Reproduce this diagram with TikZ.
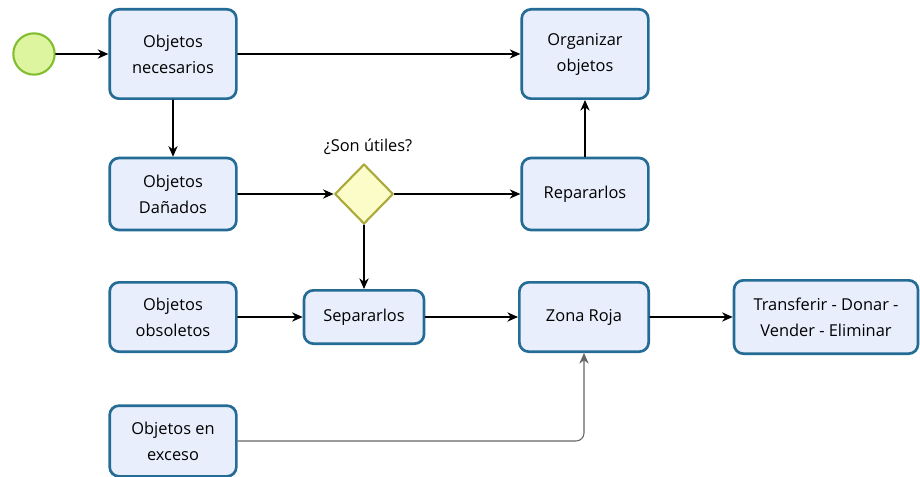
\documentclass[tikz,border=0pt]{standalone}
\usepackage{fontspec}
\setmainfont{Open Sans}
\usetikzlibrary{arrows.meta,shapes.geometric}

\definecolor{taskline}{RGB}{36,108,150}
\definecolor{taskfill}{RGB}{232,238,252}
\definecolor{startline}{RGB}{130,190,50}
\definecolor{startfill}{RGB}{222,245,160}
\definecolor{gateline}{RGB}{170,170,60}
\definecolor{gatefill}{RGB}{252,252,200}

\tikzset{
  task/.style={draw=taskline,fill=taskfill,line width=2pt,rounded corners=7pt,
    align=center,minimum width=95pt,minimum height=54pt,inner sep=2pt},
  gate/.style={diamond,draw=gateline,fill=gatefill,line width=1.6pt,
    minimum width=44pt,minimum height=45pt,inner sep=0pt},
  flow/.style={-{Stealth[length=8pt,width=7pt]},line width=0.8pt}
}

\begin{document}
\begin{tikzpicture}[x=0.75pt,y=-0.75pt,font=\fontsize{12.3}{19.5}\selectfont,line cap=round,line join=round]

\useasboundingbox (0,0) rectangle (920,477);

% inicio
\node[circle,draw=startline,fill=startfill,line width=1.6pt,minimum size=31pt,inner sep=0pt] (inicio) at (34,54) {};

% tareas
\node[task,minimum height=67pt] (necesarios) at (173,54) {Objetos\\necesarios};
\node[task,minimum height=67pt] (organizar) at (585,54) {Organizar\\objetos};
\node[task] (danados) at (173,194) {Objetos\\Dañados};
\node[task] (reparar) at (585,194) {Repararlos};
\node[task,minimum height=52pt] (obsoletos) at (173,317) {Objetos\\obsoletos};
\node[task,minimum width=90pt,minimum height=40pt] (separar) at (364,317) {Separarlos};
\node[task,minimum width=97pt,minimum height=52pt] (zona) at (584,317) {Zona Roja};
\node[task,minimum width=138pt,minimum height=55pt] (destino) at (826,317) {Transferir - Donar -\\Vender - Eliminar};
\node[task,minimum height=53pt] (exceso) at (173,441) {Objetos en\\exceso};

% decision
\node[gate] (utiles) at (364,194) {};
\node (pregunta) at (368,147) {¿Son útiles?};

% flujos
\draw[flow] (inicio) -- (necesarios);
\draw[flow] (necesarios) -- (organizar);
\draw[flow] (necesarios) -- (danados);
\draw[flow] (danados) -- (utiles);
\draw[flow] (utiles) -- (reparar);
\draw[flow] (reparar) -- (organizar);
\draw[flow] (utiles) -- (separar);
\draw[flow] (obsoletos) -- (separar);
\draw[flow] (separar) -- (zona);
\draw[flow] (zona) -- (destino);
\draw[flow,draw=black!60,rounded corners=6pt] (exceso.east) -| (zona.south);

\end{tikzpicture}
\end{document}
